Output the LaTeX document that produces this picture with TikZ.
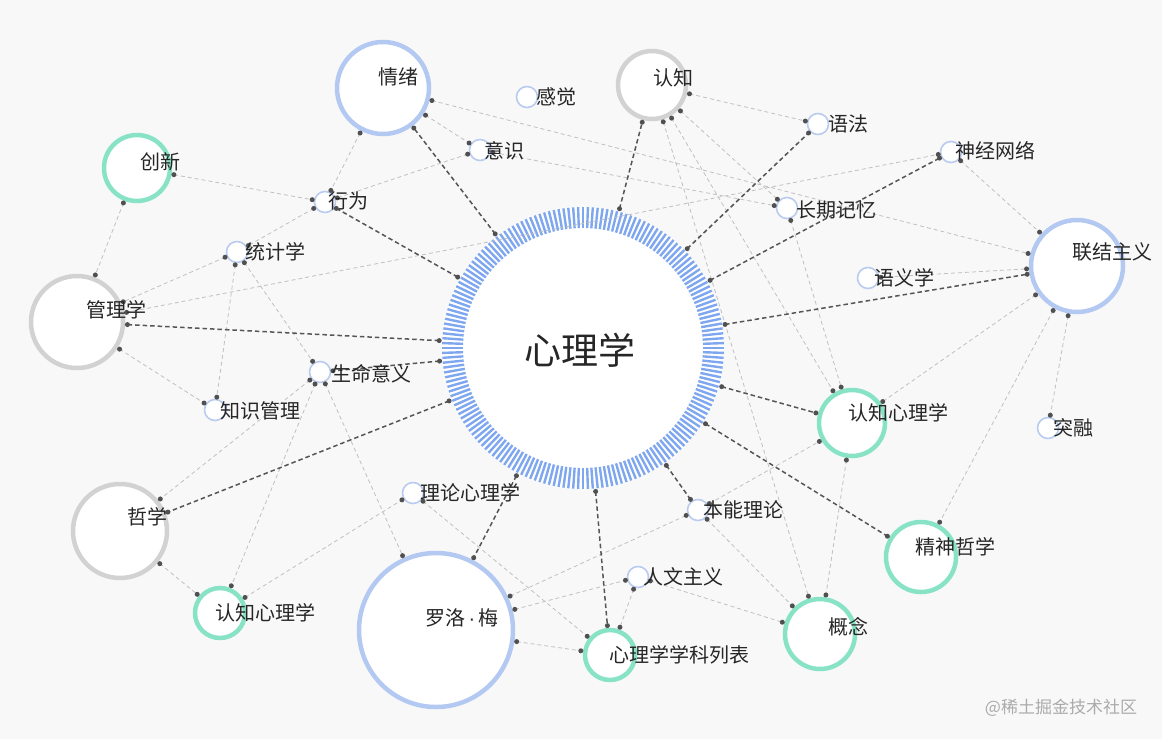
\documentclass[tikz,border=0pt]{standalone}
\usepackage{fontspec}
\newfontfamily\cjk{Noto Sans CJK SC}
\newfontfamily\latsans{Liberation Sans}
\definecolor{bgc}{HTML}{F8F8F8}
\definecolor{tickc}{HTML}{7EA7EF}
\definecolor{bluec}{HTML}{B4C9F2}
\definecolor{greyc}{HTML}{D2D2D2}
\definecolor{greenc}{HTML}{88E3C6}
\definecolor{smallc}{HTML}{B9CCEF}
\definecolor{darkc}{HTML}{555555}
\definecolor{lightc}{HTML}{C0C0C0}
\definecolor{dotc}{HTML}{505050}
\definecolor{labc}{HTML}{262626}
\definecolor{wmc}{HTML}{ABABAB}
\begin{document}
\begin{tikzpicture}[x=1pt,y=-1pt,
  smallnode/.style={circle, draw=smallc, line width=1.6pt, fill=white, minimum size=21pt, inner sep=0pt, outer sep=2.5pt},
  bignode/.style={circle, line width=4.5pt, fill=white, inner sep=0pt, outer sep=4.5pt},
  bluenode/.style={bignode, draw=bluec},
  greynode/.style={bignode, draw=greyc},
  greennode/.style={bignode, draw=greenc},
  dotnode/.style={circle, fill=dotc, minimum size=5pt, inner sep=0pt, solid},
  darkedge/.style={draw=darkc, line width=1.5pt, dash pattern=on 4.5pt off 3pt},
  lightedge/.style={draw=lightc, line width=0.8pt, dash pattern=on 4pt off 3pt},
  lab/.style={font=\cjk\fontsize{20}{24}\selectfont, text=labc, inner sep=0pt},
  biglab/.style={font=\cjk\fontsize{37}{44}\selectfont, text=labc, inner sep=0pt},
  wmlab/.style={font=\cjk\fontsize{17}{20}\selectfont, text=wmc, inner sep=0pt}
]
\useasboundingbox (0,0) rectangle (1162,739);
\fill[bgc] (0,0) rectangle (1162,739);

% central node
\node[circle, minimum size=282pt, inner sep=0pt, outer sep=3pt, fill=white] (C) at (583,348) {};
\begin{scope}[shift={(583,348)}]
  \foreach \a in {0,2,...,358} \draw[tickc, line width=2.4pt] (\a:120) -- (\a:141);
\end{scope}

% big nodes
\node[bluenode, minimum size=92pt] (qingxu) at (383,88) {};
\node[greynode, minimum size=68pt] (renzhi) at (652,85) {};
\node[greennode, minimum size=66pt] (chuangxin) at (137,168) {};
\node[bluenode, minimum size=92pt] (lianjie) at (1077,266) {};
\node[greynode, minimum size=92pt] (guanli) at (77,322) {};
\node[greennode, minimum size=66pt] (rzxlR) at (852,423) {};
\node[greynode, minimum size=94pt] (zhexue) at (120,531) {};
\node[greennode, minimum size=70pt] (jingshen) at (921,557) {};
\node[greennode, minimum size=50pt] (rzxlL) at (220,613) {};
\node[bluenode, minimum size=154pt] (luoluomei) at (436,630) {};
\node[greennode, minimum size=70pt] (gainian) at (820,634) {};
\node[greennode, minimum size=50pt] (xueke) at (610,655) {};

% small nodes
\node[smallnode] (ganjue) at (527,97) {};
\node[smallnode] (yufa) at (818,124) {};
\node[smallnode] (shenjing) at (951,152) {};
\node[smallnode] (yishi) at (480,150) {};
\node[smallnode] (xingwei) at (325,202) {};
\node[smallnode] (changqi) at (787,208) {};
\node[smallnode] (tongji) at (237,252) {};
\node[smallnode] (yuyi) at (868,278) {};
\node[smallnode] (shengming) at (320,372) {};
\node[smallnode] (zhishi) at (215,410) {};
\node[smallnode] (turong) at (1048,428) {};
\node[smallnode] (lilun) at (413,493) {};
\node[smallnode] (benneng) at (698,510) {};
\node[smallnode] (renwen) at (638,577) {};

% light edges
\foreach \a/\b in {qingxu/xingwei, qingxu/yishi, qingxu/lianjie, yishi/xingwei, yishi/changqi,
  chuangxin/xingwei, chuangxin/guanli, xingwei/tongji, tongji/guanli, tongji/zhishi,
  tongji/shengming, guanli/shenjing, guanli/zhishi, shengming/zhexue, shengming/rzxlL,
  shengming/luoluomei, zhexue/rzxlL, rzxlL/lilun, lilun/xueke, luoluomei/benneng,
  luoluomei/renwen, luoluomei/xueke, renwen/xueke, renwen/gainian, benneng/gainian,
  benneng/rzxlR, renzhi/yufa, renzhi/changqi, renzhi/rzxlR, renzhi/gainian, changqi/rzxlR,
  shenjing/lianjie, yuyi/lianjie, lianjie/rzxlR, lianjie/jingshen, lianjie/turong, rzxlR/gainian}
  \draw[lightedge] (\a) -- (\b) node[dotnode, pos=0] {} node[dotnode, pos=1] {};

% dark edges
\foreach \b in {qingxu, xingwei, guanli, shengming, zhexue, renzhi, yufa, shenjing, lianjie,
  rzxlR, jingshen, benneng, xueke, luoluomei}
  \draw[darkedge] (C) -- (\b) node[dotnode, pos=0] {} node[dotnode, pos=1] {};

% labels
\node[biglab] (lC) at (580,350) {心理学};
\node[lab] (l1) at (398,77) {情绪};
\node[lab] (l2) at (556,97) {感觉};
\node[lab] (l3) at (673,78) {认知};
\node[lab] (l4) at (848,124) {语法};
\node[lab] (l5) at (995,151) {神经网络};
\node[lab] (l6) at (504,151) {意识};
\node[lab] (l7) at (160,162) {创新};
\node[lab] (l8) at (348,201) {行为};
\node[lab] (l9) at (836,210) {长期记忆};
\node[lab] (l10) at (1112,252) {联结主义};
\node[lab] (l11) at (275,252) {统计学};
\node[lab] (l12) at (904,278) {语义学};
\node[lab] (l13) at (116,310) {管理学};
\node[lab] (l14) at (371,374) {生命意义};
\node[lab] (l15) at (260,411) {知识管理};
\node[lab] (l16) at (898,413) {认知心理学};
\node[lab] (l17) at (1073,428) {突融};
\node[lab] (l18) at (147,517) {哲学};
\node[lab] (l19) at (470,493) {理论心理学};
\node[lab] (l20) at (743,510) {本能理论};
\node[lab] (l21) at (955,547) {精神哲学};
\node[lab] (l22) at (683,577) {人文主义};
\node[lab] (l23) at (265,613) {认知心理学};
\node[lab] (l24) at (462,618) {罗洛{\latsans\,·\,}梅};
\node[lab] (l25) at (848,627) {概念};
\node[lab] (l26) at (679,655) {心理学学科列表};
\node[wmlab] (wm) at (1061,708) {@稀土掘金技术社区};
\end{tikzpicture}
\end{document}
